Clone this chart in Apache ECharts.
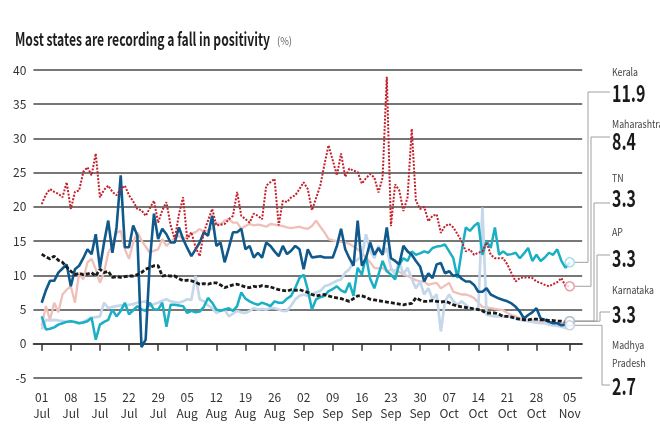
<!DOCTYPE html>
<html>
<head>
<meta charset="UTF-8">
<title>Most states are recording a fall in positivity</title>
<script src="https://cdn.jsdelivr.net/npm/echarts@6/dist/echarts.min.js"></script>
<style>
html, body { margin: 0; padding: 0; background: #fff; }
#chart { width: 660px; height: 440px; }
</style>
</head>
<body>
<div id="chart"></div>
<script>
// daily test positivity (%), day 0 = 01 Jul, last day = 05 Nov (one row per week)
var kerala = [
	4.0, 2.1, 2.2, 2.4, 2.8, 3.0, 3.2,
	3.3, 3.2, 3.0, 3.1, 3.3, 3.8, 0.6,
	2.8, 3.2, 3.5, 5.0, 4.0, 4.8, 6.0,
	4.3, 4.9, 5.5, 5.0, 4.8, 6.0, 5.0,
	5.0, 6.0, 2.5, 5.7, 5.7, 5.6, 5.5,
	4.5, 4.8, 4.6, 4.7, 5.4, 6.7, 6.0,
	5.0, 4.8, 5.0, 5.2, 4.8, 5.5, 7.5,
	6.6, 6.2, 5.9, 5.7, 6.0, 5.8, 5.5,
	6.2, 6.0, 6.0, 6.6, 7.0, 8.2, 9.6,
	10.1, 7.9, 5.0, 6.5, 6.8, 7.0, 7.7,
	8.0, 8.4, 7.8, 7.5, 8.9, 7.0, 11.1,
	10.1, 12.8, 9.5, 8.1, 10.1, 12.1, 10.6,
	10.1, 9.4, 11.6, 12.5, 12.1, 13.5, 13.0,
	13.2, 13.5, 13.3, 14.0, 14.2, 14.3, 14.5,
	13.5, 12.5, 9.6, 13.5, 17.0, 16.5, 17.2,
	17.7, 13.0, 15.0, 14.0, 17.0, 13.0, 13.5,
	13.0, 13.1, 13.3, 12.5, 13.2, 14.0, 12.1,
	13.0, 12.1, 12.6, 13.3, 13.0, 13.8, 12.1,
	11.1, 11.9
];
var maharashtra = [
	20.4, 21.8, 22.6, 22.2, 21.9, 21.4, 23.6,
	19.7, 22.2, 22.4, 25.1, 25.8, 24.6, 27.8,
	21.4, 22.5, 23.1, 22.2, 21.7, 22.6, 23.1,
	21.7, 20.8, 19.7, 19.5, 18.7, 19.8, 20.9,
	17.7, 19.5, 20.7, 17.3, 15.3, 18.9, 21.4,
	15.3, 16.3, 14.1, 12.8, 16.3, 18.0, 19.7,
	17.3, 17.4, 17.5, 18.2, 18.7, 22.2, 18.7,
	18.2, 17.7, 19.0, 18.7, 18.2, 23.1, 23.6,
	24.1, 17.3, 20.9, 20.7, 21.4, 21.7, 22.6,
	23.6, 22.6, 19.5, 21.3, 23.1, 26.2, 29.0,
	26.8, 24.6, 27.8, 24.4, 25.6, 25.3, 25.1,
	23.4, 24.2, 24.8, 24.3, 22.1, 24.3, 39.0,
	17.2, 23.3, 22.4, 19.4, 21.4, 31.4, 20.9,
	19.7, 20.0, 17.9, 18.7, 18.9, 16.2, 17.2,
	17.5, 17.0, 16.0, 15.0, 13.5, 13.8, 13.0,
	13.3, 13.5, 14.8, 13.0, 12.5, 12.5, 12.5,
	11.6, 10.3, 9.1, 9.6, 9.7, 9.7, 9.6,
	9.1, 8.9, 8.6, 8.4, 8.7, 9.0, 9.6,
	8.4, 8.4
];
var tn = [
	13.1, 12.7, 12.4, 12.8, 12.2, 11.9, 11.2,
	10.6, 10.1, 10.3, 10.1, 10.2, 10.4, 9.9,
	10.9, 10.4, 10.6, 9.7, 9.8, 9.7, 9.8,
	9.9, 9.9, 10.1, 10.4, 10.9, 11.1, 11.4,
	11.4, 9.9, 10.0, 9.9, 9.9, 9.5, 9.2,
	9.3, 9.2, 9.0, 8.7, 8.8, 8.7, 8.9,
	8.9, 8.6, 8.2, 8.4, 8.6, 8.7, 8.5,
	8.3, 8.2, 8.4, 8.3, 8.5, 8.4, 8.3,
	8.1, 7.9, 7.8, 7.7, 7.9, 7.8, 7.9,
	7.7, 7.5, 7.2, 7.0, 7.1, 7.2, 7.0,
	6.8, 6.7, 6.6, 6.4, 6.2, 6.6, 7.0,
	7.0, 6.8, 6.5, 6.4, 6.3, 6.2, 6.1,
	6.0, 5.9, 5.8, 5.7, 5.8, 5.9, 6.7,
	6.4, 6.2, 6.2, 6.3, 6.2, 6.1, 6.2,
	6.0, 5.7, 5.5, 5.4, 5.3, 5.2, 5.1,
	5.0, 4.8, 4.5, 4.5, 4.5, 4.3, 4.0,
	4.0, 3.9, 3.7, 3.6, 3.5, 3.5, 3.6,
	3.6, 3.5, 3.5, 3.4, 3.4, 3.3, 3.3,
	3.2, 3.3
];
var ap = [
	2.6, 5.5, 3.5, 6.0, 4.6, 7.2, 7.9,
	8.4, 6.0, 10.4, 9.4, 11.9, 12.4, 10.9,
	8.9, 10.4, 13.3, 14.3, 16.2, 16.5, 13.8,
	12.4, 14.8, 16.3, 15.1, 14.2, 13.3, 13.6,
	13.8, 15.3, 14.3, 14.9, 15.4, 15.8, 15.3,
	15.6, 16.1, 16.3, 16.8, 16.3, 16.6, 16.8,
	17.7, 17.4, 18.0, 18.2, 17.7, 17.7, 16.8,
	17.2, 17.5, 17.3, 17.4, 17.3, 17.1, 17.5,
	17.4, 17.3, 17.2, 17.0, 16.9, 17.0, 17.1,
	16.9, 16.8, 17.2, 18.0, 17.1, 16.3, 15.3,
	15.1, 15.0, 14.9, 14.8, 14.6, 14.2, 13.8,
	13.3, 12.6, 11.9, 11.1, 11.0, 11.1, 10.6,
	10.8, 10.7, 10.5, 10.1, 9.9, 9.6, 9.3,
	9.1, 9.1, 8.6, 8.8, 8.9, 8.1, 8.5,
	8.9, 7.6, 7.4, 7.2, 7.2, 7.0, 6.7,
	6.0, 5.4, 5.3, 5.2, 5.1, 5.0, 4.9,
	4.5, 4.2, 4.0, 3.7, 3.6, 3.5, 3.4,
	3.3, 3.2, 3.2, 3.2, 3.1, 3.0, 3.0,
	2.9, 3.3
];
var karnataka = [
	6.0, 7.8, 9.2, 9.2, 10.4, 11.0, 11.6,
	8.4, 10.9, 11.4, 12.5, 13.8, 13.1, 16.0,
	11.1, 14.8, 18.0, 13.3, 17.0, 24.6, 14.1,
	14.1, 17.3, 15.8, -0.5, 0.6, 12.0, 19.0,
	15.3, 16.8, 16.0, 14.8, 14.8, 17.0, 15.3,
	14.0, 12.8, 13.8, 14.8, 16.3, 15.8, 18.7,
	14.3, 14.8, 11.9, 14.0, 16.3, 16.3, 16.8,
	13.8, 14.3, 12.6, 13.3, 12.6, 14.8, 14.3,
	13.5, 12.8, 14.3, 13.1, 13.6, 14.3, 13.8,
	10.9, 13.8, 12.6, 12.7, 12.8, 12.6, 12.6,
	12.6, 14.3, 16.8, 13.8, 12.5, 11.4, 18.0,
	11.4, 12.5, 14.8, 13.0, 14.0, 13.0, 17.0,
	12.5, 12.1, 11.6, 14.3, 13.5, 13.0, 12.1,
	11.3, 9.1, 10.3, 9.6, 11.6, 11.8, 10.3,
	10.6, 9.9, 10.1, 9.5, 9.1, 9.1, 8.6,
	7.6, 7.6, 8.1, 7.2, 6.9, 6.6, 6.4,
	6.2, 5.9, 5.4, 4.7, 3.7, 4.2, 4.6,
	5.2, 3.7, 3.5, 3.2, 3.0, 3.0, 2.7,
	2.8, 3.3
];
var mp = [
	2.1, 3.5, 3.4, 3.5, 3.4, 3.3, 3.2,
	3.3, 3.1, 3.0, 3.2, 3.5, 3.8, 3.9,
	4.0, 6.0, 5.2, 5.4, 5.5, 5.6, 5.6,
	5.7, 5.8, 6.0, 6.1, 6.2, 5.5, 5.8,
	6.0, 6.3, 6.5, 6.2, 6.1, 6.0, 6.2,
	6.5, 6.4, 9.9, 6.5, 6.2, 5.6, 5.2,
	4.5, 4.8, 5.0, 4.0, 4.4, 4.8, 4.6,
	4.5, 4.8, 5.2, 5.0, 5.1, 5.0, 5.2,
	5.2, 5.0, 4.8, 4.8, 5.6, 6.5, 7.0,
	7.2, 7.0, 7.3, 7.5, 7.7, 8.4, 8.6,
	8.9, 9.2, 9.4, 10.4, 10.9, 11.9, 12.3,
	12.8, 16.0, 13.6, 12.5, 14.3, 13.0, 14.0,
	11.1, 10.1, 12.1, 10.1, 11.1, 9.5, 8.1,
	9.1, 7.2, 8.1, 6.5, 7.2, 1.8, 6.2,
	7.2, 6.2, 5.7, 6.2, 5.7, 5.2, 5.0,
	5.0, 19.9, 4.2, 4.1, 4.0, 4.0, 4.0,
	4.0, 3.9, 3.7, 3.5, 3.4, 3.3, 3.2,
	3.1, 3.0, 3.0, 2.8, 2.7, 2.6, 2.5,
	2.3, 2.7
];

// x ticks (day numbers and labels)
var tickDays = [0, 7, 14, 21, 28, 35, 42, 49, 56, 63, 70, 77, 84, 91, 98, 105, 112, 119, 127];
var tickLabels = ['01\nJul', '08\nJul', '15\nJul', '22\nJul', '29\nJul', '05\nAug', '12\nAug', '19\nAug',
	'26\nAug', '02\nSep', '09\nSep', '16\nSep', '23\nSep', '30\nSep', '07\nOct', '14\nOct',
	'21\nOct', '28\nOct', '05\nNov'];

var stateNames = ['Kerala', 'Maharashtra', 'TN', 'AP', 'Karnataka', 'Madhya\nPradesh'];
var stateData = [kerala, maharashtra, tn, ap, karnataka, mp];

var FONT = '"Noto Sans CJK SC", "Liberation Sans", sans-serif';
var PAD = 2; // axis starts two days before 01 Jul

// category axis runs from day -2 to day 130
var cats = [];
for (var d = -PAD; d <= 130; d++) cats.push(String(d));

function isTick(index) {
	return tickDays.indexOf(index - PAD) >= 0;
}

// horizontal squeeze so a text gets the width it has in the print layout
var measureCtx = document.createElement('canvas').getContext('2d');
function squeeze(text, font, width) {
	measureCtx.font = font;
	return Math.min(1, width / measureCtx.measureText(text).width);
}

// line looks, same order as stateNames
var looks = [
	{ color: '#1aafc4', width: 2.5, type: 'solid', ring: '#8fd4e0', z: 4 },
	{ color: '#c4202b', width: 2, type: [2, 1.5], ring: '#e2878d', z: 7 },
	{ color: '#1a1a1a', width: 2.8, type: [4, 2], ring: '#aab2bd', z: 6 },
	{ color: '#efbfba', width: 2.3, type: 'solid', ring: '#d0c4c6', z: 2 },
	{ color: '#0f598d', width: 2.6, type: 'solid', ring: '#a8b8cb', z: 5 },
	{ color: '#c5d7ea', width: 2.7, type: 'solid', ring: '#b9c9db', z: 3 }
];

var series = [];
stateData.forEach(function (vals, k) {
	series.push({
		name: stateNames[k],
		type: 'line',
		data: [null, null].concat(vals),
		showSymbol: false,
		symbol: 'none',
		z: looks[k].z,
		lineStyle: { color: looks[k].color, width: looks[k].width, type: looks[k].type }
	});
});

// hollow circles at the last point
series.push({
	type: 'scatter',
	z: 10,
	symbol: 'circle',
	symbolSize: 9,
	data: stateData.map(function (vals, k) {
		return {
			value: [vals.length - 1 + PAD, vals[vals.length - 1]],
			itemStyle: { color: '#fff', borderColor: looks[k].ring, borderWidth: 1.5 }
		};
	})
});

var chart = echarts.init(document.getElementById('chart'));

var option = {
	animation: false,
	grid: { left: 33.4, right: 77.8, top: 70, bottom: 62 },
	xAxis: {
		type: 'category',
		boundaryGap: false,
		data: cats,
		axisLine: { lineStyle: { color: '#333', width: 1.5 } },
		axisTick: {
			show: true,
			length: 7,
			interval: function (index) { return isTick(index); },
			lineStyle: { color: '#333', width: 1.5 }
		},
		axisLabel: {
			interval: function (index) { return isTick(index); },
			formatter: function (value) {
				var i = tickDays.indexOf(Number(value));
				return i >= 0 ? tickLabels[i] : '';
			},
			margin: 11,
			fontFamily: FONT,
			fontSize: 12,
			lineHeight: 16,
			color: '#333'
		},
		splitLine: { show: false }
	},
	yAxis: {
		type: 'value',
		min: -5,
		max: 40,
		interval: 5,
		axisLine: { show: false },
		axisTick: { show: false },
		axisLabel: { margin: 7, fontFamily: FONT, fontSize: 12, color: '#333' },
		splitLine: { lineStyle: { color: '#4a4a4a', width: 1.7 } }
	},
	series: series
};

chart.setOption(option);

// title
var titleText = 'Most states are recording a fall in positivity';
var titleFont = 'bold 18px ' + FONT;
var unitFont = '11px ' + FONT;
var elems = [
	{
		type: 'text', x: 15, y: 39,
		scaleX: squeeze(titleText, titleFont, 255),
		style: { text: titleText, font: titleFont, fill: '#1e1e1e', verticalAlign: 'middle', textVerticalAlign: 'middle' }
	},
	{
		type: 'text', x: 277, y: 41,
		scaleX: squeeze('(%)', unitFont, 15),
		style: { text: '(%)', font: unitFont, fill: '#666', verticalAlign: 'middle', textVerticalAlign: 'middle' }
	}
];

// right-hand labels with leader lines
var nameY = [72, 124, 178, 232, 290, 354];
var valueY = [93, 141, 198, 258, 314, 386];
var hookY = [92, 137, 203, 255, 312, 385];
var hookX = [588, 591, 594, 597, 600, 602];
var textX = 612;
var nameFont = '11px ' + FONT;
var valueFont = 'bold 23px ' + FONT;
var nameScale = squeeze('Karnataka', nameFont, 42);
var valueScale = squeeze('3.3', valueFont, 24);

stateData.forEach(function (vals, k) {
	var last = vals.length - 1;
	var p = chart.convertToPixel({ seriesIndex: k }, [last + PAD, vals[last]]);
	elems.push({
		type: 'polyline',
		silent: true,
		shape: { points: [[p[0] + 5, p[1]], [hookX[k], p[1]], [hookX[k], hookY[k]], [textX - 2, hookY[k]]] },
		style: { stroke: '#a0a0a0', lineWidth: 1, fill: null }
	});
	elems.push({
		type: 'text',
		x: textX,
		y: nameY[k],
		scaleX: nameScale,
		style: {
			text: stateNames[k],
			font: nameFont,
			lineHeight: 18,
			fill: '#444',
			verticalAlign: 'middle',
			textVerticalAlign: 'middle'
		}
	});
	elems.push({
		type: 'text',
		x: textX,
		y: valueY[k],
		scaleX: valueScale,
		style: {
			text: vals[last].toFixed(1),
			font: valueFont,
			fill: '#1a1a1a',
			verticalAlign: 'middle',
			textVerticalAlign: 'middle'
		}
	});
});

chart.setOption({ graphic: { elements: elems } });
</script>
</body>
</html>
